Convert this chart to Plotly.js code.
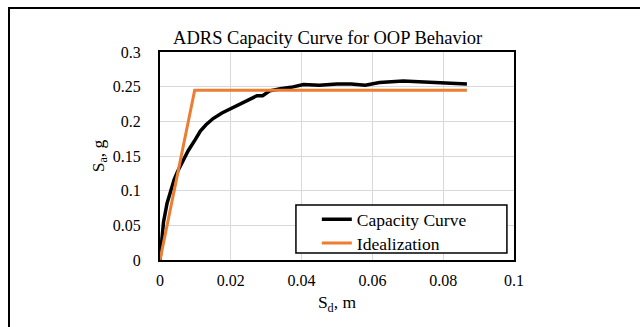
<!DOCTYPE html>
<html><head><meta charset="utf-8">
<script src="https://cdn.plot.ly/plotly-3.0.1.min.js"></script>
<style>
html,body{margin:0;padding:0;background:#fff;overflow:hidden;}
#frame{position:absolute;left:8px;top:7px;width:700px;height:400px;border:2px solid #000;box-sizing:border-box;}
#chart{position:absolute;left:0;top:0;width:640px;height:327px;}
</style></head>
<body>
<div id="frame"></div>
<div id="chart"></div>
<script>
const capX = [0, 0.0005, 0.001, 0.002, 0.003, 0.004, 0.005, 0.0067, 0.008, 0.01, 0.0114, 0.013, 0.015, 0.0175, 0.0199, 0.022, 0.025, 0.0274, 0.029, 0.031, 0.034, 0.037, 0.0405, 0.045, 0.05, 0.054, 0.058, 0.062, 0.0687, 0.075, 0.082, 0.0867];
const capY = [0, 0.035, 0.055, 0.082, 0.1, 0.116, 0.128, 0.145, 0.158, 0.174, 0.186, 0.195, 0.204, 0.212, 0.218, 0.224, 0.232, 0.237, 0.237, 0.244, 0.247, 0.249, 0.253, 0.252, 0.254, 0.254, 0.252, 0.256, 0.258, 0.257, 0.256, 0.254];
const idealX = [0, 0.0098, 0.0867];
const idealY = [0, 0.245, 0.245];
const xTicks = [0, 0.02, 0.04, 0.06, 0.08, 0.1];
const xTickText = ['0', '0.02', '0.04', '0.06', '0.08', '0.1'];
const yTicks = [0, 0.05, 0.1, 0.15, 0.2, 0.25, 0.3];
const yTickText = ['0', '0.05', '0.1', '0.15', '0.2', '0.25', '0.3'];

const FAM = "'Liberation Serif', 'Times New Roman', serif";
const f = (s) => ({family: FAM, size: s, color: '#000'});
const data = [
  {x: capX, y: capY, mode: 'lines', name: 'Capacity Curve', legend: 'legend', line: {color: '#000000', width: 3.5}},
  {x: idealX, y: idealY, mode: 'lines', name: 'Idealization', legend: 'legend2', line: {color: '#ED7D31', width: 3}}
];
const legBase = {xanchor: 'left', yanchor: 'top', bgcolor: 'rgba(0,0,0,0)', borderwidth: 0, font: f(17.5), tracegroupgap: 0};
const layout = {
  width: 640, height: 327,
  margin: {l: 160, r: 126, t: 52, b: 67, pad: 0},
  paper_bgcolor: 'rgba(0,0,0,0)', plot_bgcolor: '#fff',
  font: f(16),
  title: {text: 'ADRS Capacity Curve for OOP Behavior', font: f(18.5), x: 0.512, xanchor: 'center', y: 0.885, yanchor: 'middle'},
  xaxis: {range: [0, 0.1], tickvals: xTicks, ticktext: xTickText, showgrid: true, gridcolor: '#d9d9d9', gridwidth: 1,
    zeroline: false, showline: true, linecolor: '#000', linewidth: 2, mirror: true, ticks: '', ticklen: 0,
    tickfont: f(16), ticklabelstandoff: 5,
    title: {text: 'S<sub>d</sub>, m', font: f(17.5), standoff: 8}},
  yaxis: {range: [0, 0.3], tickvals: yTicks, ticktext: yTickText, showgrid: true, gridcolor: '#d9d9d9', gridwidth: 1,
    zeroline: false, showline: true, linecolor: '#000', linewidth: 2, mirror: true, ticks: '', ticklen: 0,
    tickfont: f(16), ticklabelstandoff: 14,
    title: {text: 'S<sub>a</sub>, g', font: f(17.5), standoff: 4}},
  shapes: [
    {type: 'rect', xref: 'paper', yref: 'paper', x0: 0.384, x1: 0.980, y0: 0.034, y1: 0.264,
     fillcolor: '#fff', line: {color: '#000', width: 1.5}, layer: 'above'}
  ],
  showlegend: true,
  legend: Object.assign({x: 0.443, y: 0.282}, legBase),
  legend2: Object.assign({x: 0.443, y: 0.168}, legBase)
};
Plotly.newPlot('chart', data, layout, {displayModeBar: false, staticPlot: true});
</script>
</body></html>
